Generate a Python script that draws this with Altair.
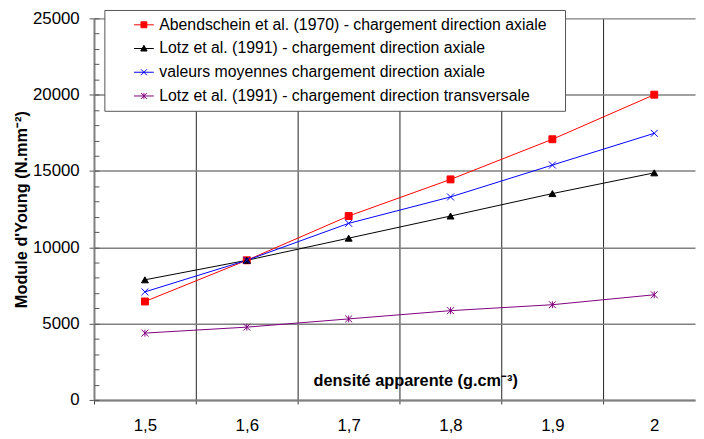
import altair as alt
import pandas as pd

# ---- data ----
x_values = [1.5, 1.6, 1.7, 1.8, 1.9, 2.0]
series_names = [
    "Abendschein et al. (1970) - chargement direction axiale",
    "Lotz et al. (1991) - chargement direction axiale",
    "valeurs moyennes chargement direction axiale",
    "Lotz et al. (1991) - chargement direction transversale",
]
abendschein = [6450, 9150, 12050, 14450, 17080, 20000]
lotz_axial = [7870, 9150, 10600, 12050, 13520, 14880]
moyennes = [7080, 9150, 11570, 13300, 15390, 17470]
lotz_transv = [4380, 4770, 5310, 5850, 6240, 6890]
series_values = [abendschein, lotz_axial, moyennes, lotz_transv]
series_colors = ["#ff0000", "#000000", "#0000ff", "#800080"]

y_major = [0, 5000, 10000, 15000, 20000, 25000]
y_minor = list(range(0, 26000, 1000))
x_ticks = [1.45, 1.5, 1.55, 1.6, 1.65, 1.7, 1.75, 1.8, 1.85, 1.9, 1.95, 2.0]

# marker paths
chart_shapes = [
    "M-1,-1H1V1H-1Z",
    "triangle-up",
    "M-1,-1L1,1M-1,1L1,-1",
    "M-1,-1L1,1M-1,1L1,-1M0,-1V1",
]
legend_shapes = [
    "M-1,0H1M-0.3,-0.3H0.3V0.3H-0.3Z",
    "M-1,0H1M0,-0.32L0.32,0.25H-0.32Z",
    "M-1,0H1M-0.3,-0.3L0.3,0.3M-0.3,0.3L0.3,-0.3",
    "M-1,0H1M-0.3,-0.3L0.3,0.3M-0.3,0.3L0.3,-0.3M0,-0.3V0.3",
]

rows = []
for name, vals in zip(series_names, series_values):
    for xv, yv in zip(x_values, vals):
        rows.append({"series": name, "x": xv, "y": yv})
df = pd.DataFrame(rows)

FONT = "Liberation Sans"
W, H = 608, 386

x_scale = alt.Scale(domain=[1.45, 2.04], nice=False, zero=False)
y_scale = alt.Scale(domain=[0, 25000], nice=False)
col_scale = alt.Scale(domain=series_names, range=series_colors)

boundary_test = "round(datum.value*100) % 10 == 5"

x_axis = alt.Axis(
    values=x_ticks,
    labelExpr="round(datum.value*100) % 10 == 0 ? (round(datum.value*10) == 20 ? '2' : replace(format(datum.value, '.1f'), '.', ',')) : ''",
    labelOverlap=False,
    labelFlush=False,
    labelFont=FONT,
    labelFontSize=17,
    labelColor="#000",
    labelPadding=14,
    tickSize=4,
    tickColor="#333",
    tickOpacity={"condition": {"test": boundary_test, "value": 1}, "value": 0},
    grid=True,
    gridColor="#222",
    gridWidth=1,
    gridOpacity={"condition": {"test": boundary_test, "value": 1}, "value": 0},
    domainColor="#808080",
    domainWidth=2,
    title="densité apparente (g.cm⁻³)",
    titleFont=FONT,
    titleFontSize=16.5,
    titleFontWeight="bold",
    titleColor="#000",
    titleX=325,
    titleY=-20,
    titleAlign="center",
    titleBaseline="middle",
)

y_axis_left = alt.Axis(
    values=y_major,
    format="d",
    labelFont=FONT,
    labelFontSize=17,
    labelColor="#000",
    labelPadding=10,
    tickSize=5,
    tickColor="#555",
    grid=True,
    gridColor="#808080",
    gridWidth=1.5,
    domainColor="#808080",
    domainWidth=2,
    title="Module d'Young (N.mm⁻²)",
    titleFont=FONT,
    titleFontSize=16.5,
    titleFontWeight="bold",
    titleColor="#000",
    titleAngle=270,
    titleX=-73,
    titleY=H / 2,
    titleAlign="center",
    titleBaseline="middle",
)

y_axis_minor = alt.Axis(
    orient="right",
    offset=-W,
    values=y_minor,
    labels=False,
    domain=False,
    grid=False,
    tickSize=5,
    tickColor="#555",
    title=None,
)

box = alt.Chart(pd.DataFrame({"a": [0]})).mark_rect(
    fill="white", stroke="#555", strokeWidth=1
).encode(
    x=alt.value(11), x2=alt.value(477), y=alt.value(-8), y2=alt.value(94)
)

lines = alt.Chart(df).mark_line(strokeWidth=1).encode(
    x=alt.X("x:Q", scale=x_scale, axis=x_axis),
    y=alt.Y("y:Q", scale=y_scale, axis=y_axis_left),
    color=alt.Color("series:N", scale=col_scale, legend=None),
)

points = alt.Chart(df).mark_point(strokeWidth=1, opacity=1, size=49).encode(
    x=alt.X("x:Q", scale=x_scale, axis=x_axis),
    y=alt.Y("y:Q", scale=y_scale, axis=y_axis_minor),
    shape=alt.Shape("series:N", scale=alt.Scale(domain=series_names, range=chart_shapes), legend=None),
    fill=alt.Fill("series:N", scale=col_scale, legend=None),
    stroke=alt.Stroke("series:N", scale=col_scale, legend=None),
)

legend_layer = alt.Chart(df).transform_filter("datum.y < -1").mark_point(
    strokeWidth=1, opacity=1
).encode(
    x=alt.X("x:Q", scale=x_scale, axis=x_axis),
    y=alt.Y("y:Q", scale=y_scale, axis=None),
    shape=alt.Shape(
        "series:N",
        scale=alt.Scale(domain=series_names, range=legend_shapes),
        legend=alt.Legend(
            orient="none",
            legendX=40,
            legendY=-4,
            title=None,
            labelFont=FONT,
            labelFontSize=16,
            labelColor="#000",
            labelOffset=5,
            labelLimit=600,
            symbolSize=400,
            symbolStrokeWidth=1,
            symbolOpacity=1,
            rowPadding=5,
            padding=0,
        ),
    ),
    fill=alt.Fill("series:N", scale=col_scale),
    stroke=alt.Stroke("series:N", scale=col_scale),
)

chart = (
    alt.layer(box, lines, points, legend_layer)
    .resolve_scale(shape="independent", fill="independent", stroke="independent")
    .resolve_axis(y="independent")
    .properties(
        width=W,
        height=H,
        autosize=alt.AutoSizeParams(type="none"),
        padding={"left": 87, "top": 8, "right": 1, "bottom": 36},
        background="white",
    )
    .configure_view(stroke=None)
)

chart.save("out.html", embed_options={"renderer": "svg", "actions": False})
